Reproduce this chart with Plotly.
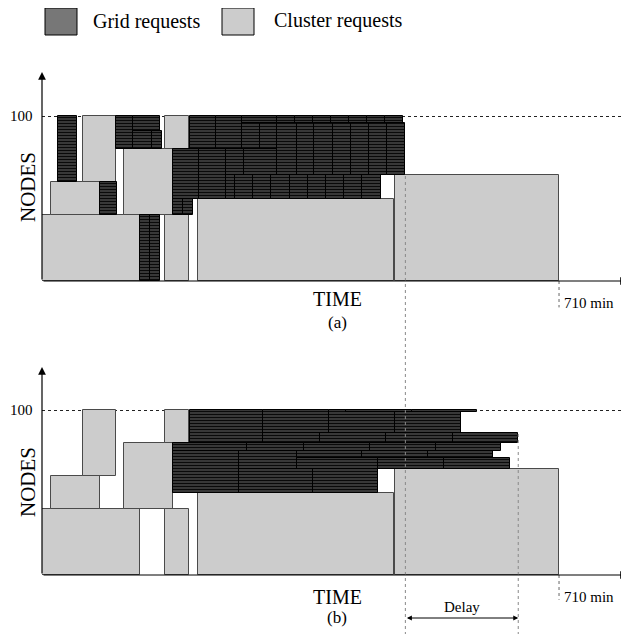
import plotly.graph_objects as go

W, H = 629, 634          # browser window
OFF = 8                  # page body margin around the figure
WF, HF = W - OFF, H - OFF  # figure size
FONT = "Liberation Serif"

# ---------------- data (time in minutes, nodes) ----------------
# Cluster requests (identical in both schedules)
cl_start = [0, 12, 56, 113, 169, 169, 214, 485]
cl_end   = [135, 79, 101, 180, 202, 202, 484, 710]
cl_lo    = [0, 40, 60, 40, 80, 0, 0, 0]
cl_hi    = [40, 60, 100, 80, 100, 40, 50, 64]

# Grid requests, schedule (a)
ga_start = [22, 79, 135, 148, 102, 125, 125, 151, 203, 239,
            275, 323, 347, 372, 397, 422, 446, 471,
            275, 300,
            323, 350, 374, 399, 424, 449, 474,
            180, 216, 253, 277,
            253, 265, 290, 315, 341, 365, 390, 415, 440,
            180, 194]
ga_end   = [48, 103, 148, 162, 125, 162, 151, 165, 239, 275,
            323, 347, 372, 397, 422, 446, 471, 496,
            300, 323,
            350, 374, 399, 424, 449, 474, 499,
            216, 253, 277, 323,
            265, 290, 315, 341, 365, 390, 415, 440, 465,
            194, 208]
ga_lo    = [60, 40, 0, 0, 80, 91, 80, 80, 80, 80,
            96, 96, 96, 96, 96, 96, 96, 96,
            80, 80,
            64, 64, 64, 64, 64, 64, 64,
            50, 50, 64, 64,
            50, 50, 50, 50, 50, 50, 50, 50, 50,
            40, 40]
ga_hi    = [100, 60, 40, 40, 100, 100, 91, 91, 100, 100,
            100, 100, 100, 100, 100, 100, 100, 100,
            96, 96,
            96, 96, 96, 96, 96, 96, 96,
            80, 80, 80, 80,
            64, 64, 64, 64, 64, 64, 64, 64, 64,
            50, 50]

# Grid requests, schedule (b)
gb_start = [203, 304, 394, 485, 417, 508,
            304, 382, 473, 564,
            180, 282, 360, 451, 541,
            180, 271, 350, 439, 530,
            350, 462, 552,
            271, 372]
gb_end   = [304, 394, 485, 575, 508, 598,
            382, 473, 564, 654,
            282, 360, 451, 541, 631,
            271, 350, 439, 530, 620,
            462, 552, 643,
            372, 462]
gb_lo    = [80, 86, 86, 86, 98.6, 98.6,
            80, 80, 80, 80,
            75, 75, 75, 75, 75,
            50, 64, 71, 71, 71,
            64, 64, 64,
            50, 50]
gb_hi    = [100, 100, 100, 98.6, 100, 100,
            86, 86, 86, 86,
            80, 80, 80, 80, 80,
            75, 75, 75, 75, 75,
            71, 71, 71,
            64, 64]

end_time = 710
grid_end_a = 499
grid_end_b = 654
full_nodes = 100

# ---------------- geometry (screen pixels -> figure) ----------------
PX_PER_MIN = 0.7282
PX_PER_NODE = 1.65
X0_PX, X1_PX = 42, 628
x_range = [0, (X1_PX - X0_PX) / PX_PER_MIN]
base_a, base_b = 281, 575   # baseline screen rows
SPLIT = 317                 # screen row dividing the two panels
ya_range = [(base_a - SPLIT) / PX_PER_NODE, (base_a - OFF) / PX_PER_NODE]
yb_range = [(base_b - H) / PX_PER_NODE, (base_b - SPLIT) / PX_PER_NODE]


def px(xp):
    return (xp - OFF) / WF


def py(yp):
    return 1 - (yp - OFF) / HF


def bars(start, end, lo, hi, xa, ya, grid):
    if grid:
        marker = dict(color="#3a3a3a", line=dict(color="#000", width=1),
                      pattern=dict(shape="-", fgcolor="#0a0a0a", bgcolor="#5a5a5a",
                                   size=3, solidity=0.62, fillmode="replace"))
    else:
        marker = dict(color="#cccccc", line=dict(color="#4a4a4a", width=1))
    return go.Bar(
        orientation="h",
        base=start,
        x=[e - s for s, e in zip(start, end)],
        y=[(l + h) / 2 for l, h in zip(lo, hi)],
        width=[h - l for l, h in zip(lo, hi)],
        marker=marker,
        xaxis=xa, yaxis=ya,
        showlegend=False, hoverinfo="skip",
    )


fig = go.Figure()
fig.add_trace(bars(cl_start, cl_end, cl_lo, cl_hi, "x", "y", False))
fig.add_trace(bars(ga_start, ga_end, ga_lo, ga_hi, "x", "y", True))
fig.add_trace(bars(cl_start, cl_end, cl_lo, cl_hi, "x2", "y2", False))
fig.add_trace(bars(gb_start, gb_end, gb_lo, gb_hi, "x2", "y2", True))

xdom = [px(X0_PX), px(X1_PX)]
split_dom = py(SPLIT)
axis_common = dict(showticklabels=False, ticks="", zeroline=False, showline=False)
fig.update_layout(
    width=WF, height=HF,
    margin=dict(l=0, r=0, t=0, b=0),
    paper_bgcolor="white", plot_bgcolor="white",
    barmode="overlay", bargap=0,
    xaxis=dict(domain=xdom, range=x_range, anchor="y", showgrid=False, **axis_common),
    xaxis2=dict(domain=xdom, range=x_range, anchor="y2", showgrid=False, **axis_common),
    yaxis=dict(domain=[split_dom, 1], range=ya_range, anchor="x", tickvals=[full_nodes],
               showgrid=True, gridcolor="#222", griddash="dot", gridwidth=1, **axis_common),
    yaxis2=dict(domain=[0, split_dom], range=yb_range, anchor="x2", tickvals=[full_nodes],
                showgrid=True, gridcolor="#222", griddash="dot", gridwidth=1, **axis_common),
)


def label(xp, yp, text, size, xanchor="center", angle=0):
    return dict(x=px(xp), y=py(yp), xref="paper", yref="paper", text=text,
                xanchor=xanchor, yanchor="middle", textangle=angle, showarrow=False,
                font=dict(family=FONT, size=size, color="#000"))


ann = []
# axes arrows
for xr, yr, base, tip in (("x", "y", base_a, 72), ("x2", "y2", base_b, 367)):
    top_tip = (base - tip) / PX_PER_NODE
    ann.append(dict(x=0, y=top_tip, ax=0, ay=0, xref=xr, yref=yr, axref=xr, ayref=yr,
                    showarrow=True, arrowhead=2, arrowsize=1.3, arrowwidth=1.2,
                    arrowcolor="#000", text="", standoff=0, startstandoff=0))
    ann.append(dict(x=x_range[1], y=0, ax=0, ay=0, xref=xr, yref=yr, axref=xr, ayref=yr,
                    showarrow=True, arrowhead=2, arrowsize=1.3, arrowwidth=1.2,
                    arrowcolor="#000", text="", standoff=0, startstandoff=0))
    # 710 min label
    ann.append(dict(x=end_time, y=-13.5, xref=xr, yref=yr, text=f"{end_time} min",
                    showarrow=False, xanchor="left", yanchor="middle", xshift=3,
                    font=dict(family=FONT, size=15, color="#000")))

# Delay arrow
delay_y = (base_b - 618) / PX_PER_NODE
ann.append(dict(x=grid_end_b, y=delay_y, ax=grid_end_a, ay=delay_y, xref="x2", yref="y2",
                axref="x2", ayref="y2", showarrow=True, arrowhead=2, arrowside="end+start",
                arrowsize=1.0, arrowwidth=1, arrowcolor="#000", text="",
                standoff=0, startstandoff=0))
ann.append(dict(x=(grid_end_a + grid_end_b) / 2, y=py(607), xref="x2", yref="paper",
                text="Delay", showarrow=False, yanchor="middle",
                font=dict(family=FONT, size=15, color="#000")))

# text labels
for yc_nodes, yc_time, yc_lab, lab, y100 in ((187, 299, 322, "(a)", 116), (482, 597, 617, "(b)", 410)):
    ann.append(label(28, yc_nodes, "NODES", 21, angle=-90))
    ann.append(label(337, yc_time, "TIME", 20))
    ann.append(label(337, yc_lab, lab, 17))
    ann.append(label(35, y100, str(full_nodes), 15, xanchor="right"))

# legend
ann.append(label(91, 22, "Grid requests", 20, xanchor="left"))
ann.append(label(272, 20, "Cluster requests", 20, xanchor="left"))
fig.update_layout(annotations=ann)

shapes = [
    dict(type="rect", xref="paper", yref="paper", x0=px(45), x1=px(77), y0=py(35), y1=py(8),
         fillcolor="#777777", line=dict(color="#000", width=1)),
    dict(type="rect", xref="paper", yref="paper", x0=px(222), x1=px(254), y0=py(35), y1=py(8),
         fillcolor="#cccccc", line=dict(color="#000", width=1)),
    # vertical guide lines
    dict(type="line", xref="x", yref="paper", x0=grid_end_a, x1=grid_end_a,
         y0=py(176), y1=0, line=dict(color="#888", width=1, dash="dot")),
    dict(type="line", xref="x2", yref="paper", x0=grid_end_b, x1=grid_end_b,
         y0=py(434), y1=0, line=dict(color="#888", width=1, dash="dot")),
    # 710 min ticks
    dict(type="line", xref="x", yref="y", x0=end_time, x1=end_time, y0=0, y1=-16,
         line=dict(color="#666", width=1, dash="dot")),
    dict(type="line", xref="x2", yref="y2", x0=end_time, x1=end_time, y0=0, y1=-15,
         line=dict(color="#666", width=1, dash="dot")),
]
fig.update_layout(shapes=shapes)

fig.write_html("out.html")
